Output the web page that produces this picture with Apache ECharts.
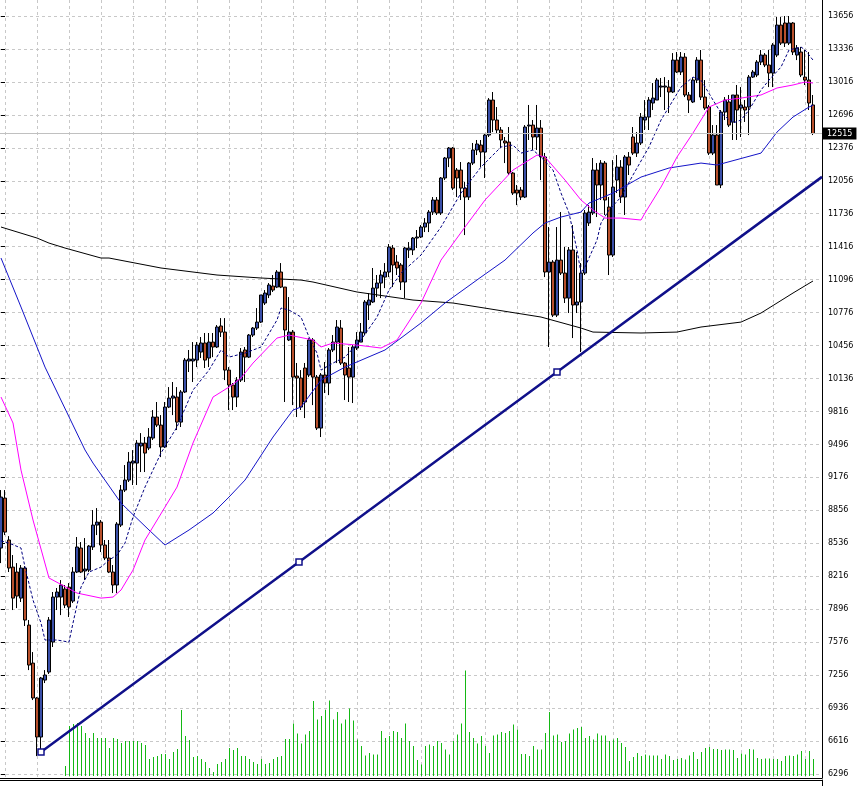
<!DOCTYPE html>
<html><head><meta charset="utf-8">
<script src="https://cdn.jsdelivr.net/npm/echarts/dist/echarts.min.js"></script>
<style>html,body{margin:0;padding:0;background:#fff;overflow:hidden}#c{width:861px;height:786px}</style>
</head><body><div id="c"></div>
<script>
// ---- price bars (bar index 0..203) ----
const open = [8490,8975,8568,8305,8257,8004,8296,7742,7373,7034,
6655,7208,7286,7577,8014,8014,8092,8111,7975,8257,
8490,8267,8276,8500,8713,8742,8519,8393,8257,8131,
8713,9053,9150,9315,9315,9481,9509,9461,9558,9762,
9684,9471,9859,9946,9956,9713,10005,10306,10306,10315,
10393,10481,10335,10490,10442,10646,10587,10218,10073,9956,
10121,10413,10344,10558,10626,10684,10869,10947,11034,11024,
11170,11024,10510,10587,10160,10141,10238,10170,10510,10150,
9655,10170,10092,10413,10490,10626,10286,10238,10150,10432,
10490,10578,10850,10879,11014,11063,11121,11170,11403,11267,
11238,11073,11384,11384,11500,11510,11607,11646,11752,11869,
11743,12083,12277,12374,12160,12160,11985,11898,12228,12355,
12403,12335,12500,12840,12646,12549,12442,12432,12131,11966,
11966,11898,12588,12597,12481,12568,12287,11170,11267,10752,
11286,11160,10917,11384,10850,10879,11160,11646,11743,12160,
12015,12228,11801,11335,12063,12189,11898,12287,12481,12325,
12423,12646,12675,12811,12840,12966,12966,12966,12918,13228,
13112,13257,12889,12821,13034,13228,12869,12772,12325,12500,
12015,12723,12821,12626,12889,12762,12772,12772,13063,13083,
13209,13277,13180,13102,13277,13568,13588,13393,13588,13277,
13306,13063,13034,12792];
const close = [8985,8645,8296,8004,8024,8296,7791,7354,7034,6655,
7228,7257,7791,8014,8063,8131,7936,7917,8257,8500,
8257,8286,8509,8713,8742,8519,8393,8257,8131,8723,
9053,9150,9325,9335,9509,9509,9412,9568,9762,9684,
9471,9859,9946,9966,9713,10005,10315,10325,10325,10461,
10481,10315,10490,10442,10636,10587,10218,10073,9956,10121,
10393,10344,10558,10626,10684,10947,10966,11044,10995,11170,
11024,10607,10587,10150,10141,9859,9908,10510,10150,9655,
10170,10092,10413,10490,10636,10286,10170,10150,10442,10510,
10587,10879,10898,11014,11063,11141,11170,11413,11238,11209,
11073,11403,11403,11500,11510,11607,11646,11752,11869,11743,
12083,12277,12374,11985,12083,11985,11898,12228,12355,12413,
12335,12500,12840,12646,12549,12452,12423,12131,11937,11937,
11898,12578,12597,12481,12568,12287,11170,11267,10752,11286,
11160,10917,11384,10850,10879,11160,11743,11752,12160,12015,
12228,11869,11335,11995,12189,11898,12287,12209,12325,12423,
12675,12675,12840,12859,13034,12976,12976,12918,13228,13112,
13257,12889,12840,13034,13228,12869,12762,12325,12500,12015,
12723,12840,12597,12889,12743,12792,12743,13063,13112,13209,
13277,13180,13102,13374,13568,13393,13393,13588,13306,13345,
13083,13034,12811,12515];
const low = [8344,8616,8257,7888,7907,7966,7733,7305,7014,6470,
6509,7179,7267,7529,7888,7839,7907,7820,7956,8247,
8247,8179,8257,8471,8616,8451,8373,8247,8053,8053,
8694,9034,9131,9102,9102,9228,9228,9441,9539,9665,
9373,9461,9849,9781,9636,9665,9995,10199,10102,10247,
10335,10238,10247,10344,10432,10539,10121,9830,9830,9859,
10102,10102,10335,10539,10607,10675,10850,10917,10976,11014,
11014,9908,10500,9878,9762,9830,9752,10150,9878,9636,
9568,9995,9975,10393,10286,10267,9927,9908,9898,10413,
10490,10558,10704,10869,10927,10917,11014,11121,11024,11141,
10995,10917,11306,11335,11403,11500,11558,11558,11724,11724,
11724,12063,12189,11966,11898,11869,11529,11869,12209,12306,
12189,12083,12481,12529,12520,12374,12228,12112,11918,11820,
11869,11888,12452,12355,12355,12063,11121,10442,10733,10733,
11141,10869,10772,10529,10772,10393,11141,11617,11724,11704,
11869,11724,11141,11316,11937,11840,11724,12112,12306,12287,
12403,12549,12549,12743,12840,12869,12743,12714,12908,13102,
13083,12869,12714,12811,13005,12840,12743,12306,12306,12015,
11985,12646,12578,12452,12452,12481,12627,12500,13054,13063,
13180,13160,12966,12966,13257,13374,13355,13374,13277,13228,
13063,12986,12743,12500];
const high = [9053,9053,8606,8422,8344,8325,8315,7791,7480,7043,
7238,7305,7820,8063,8102,8179,8131,8150,8305,8597,
8548,8587,8519,8859,8878,8762,8568,8568,8325,8742,
9102,9296,9422,9441,9538,9606,9568,9655,9830,9908,
9781,9908,10053,10102,10053,10024,10335,10413,10490,10490,
10539,10578,10578,10578,10655,10723,10723,10247,10092,10150,
10432,10442,10568,10636,10820,10947,10995,11063,11141,11189,
11257,11024,10927,10607,10287,10218,10287,10529,10529,10170,
10189,10296,10432,10558,10704,10704,10296,10442,10461,10587,
10675,10898,10966,11209,11141,11189,11257,11442,11432,11335,
11257,11413,11461,11510,11578,11626,11694,11772,11898,11898,
12092,12287,12384,12384,12180,12238,12044,12238,12423,12452,
12452,12519,12859,12918,12772,12578,12481,12578,12141,12015,
11995,12597,12792,12646,12792,12646,12326,11607,11286,11607,
11753,11413,11413,11626,11364,11257,11772,11820,12277,12228,
12257,12248,11898,12257,12306,12257,12306,12335,12578,12529,
12714,12840,12869,13005,13054,13054,13063,13034,13296,13306,
13306,13296,12918,13054,13257,13326,13034,12792,12597,12597,
12743,12869,12889,12889,12986,12966,12840,13083,13131,13228,
13326,13296,13326,13393,13646,13646,13656,13656,13597,13374,
13355,13326,13306,12889];

// ---- volume, from bar 16 onward ----
const volumeFirstBar = 16;
const volume = [100,500,520,530,500,430,380,430,380,380,380,280,380,370,330,350,350,350,350,330,
310,170,190,200,220,220,170,240,270,660,400,360,190,200,170,140,80,40,120,140,
170,280,260,280,200,200,170,140,120,170,120,130,170,190,200,370,370,525,425,325,
415,450,750,565,600,660,755,565,640,525,565,675,555,365,300,205,230,215,215,450,
380,400,450,440,380,525,350,300,160,115,300,315,300,350,330,265,215,350,415,525,
1055,440,380,325,400,300,230,405,415,440,430,450,515,465,220,220,200,300,265,265,
430,640,405,415,340,350,425,465,480,490,380,400,365,425,405,405,350,365,380,330,
290,150,190,230,200,215,205,205,205,170,215,200,160,170,180,165,205,240,170,240,
280,290,270,270,260,265,265,260,180,225,215,270,265,180,170,175,175,170,170,150,
200,205,200,215,250,170,250,170];

// ---- moving averages: [bar, value] ----
const maFast = [[0,8560],[2,8538],[5,8490],[6,8305],[8,7985],[10,7762],[11,7597],[14,7597],[17,7577],[18,7762],[20,8111],[22,8257],[25,8305],[27,8373],[29,8422],[31,8538],[33,8791],[36,9082],[40,9413],[44,9665],[48,10024],[52,10218],[55,10413],[57,10344],[61,10383],[65,10442],[69,10704],[70,10820],[72,10801],[75,10733],[77,10539],[79,10383],[80,10218],[83,10286],[86,10344],[90,10510],[94,10733],[97,10995],[100,11160],[105,11335],[110,11607],[115,11937],[120,12189],[125,12384],[128,12403],[130,12325],[133,12355],[135,12287],[138,12160],[140,11937],[142,11743],[144,11384],[145,11160],[146,11218],[149,11481],[150,11646],[152,11772],[155,11898],[158,12112],[162,12384],[165,12646],[167,12772],[170,12966],[173,13063],[175,13034],[178,12840],[180,12714],[183,12617],[185,12646],[187,12743],[190,12937],[192,13034],[195,13160],[197,13326],[200,13355],[201,13326],[203,13228]];
const maMid = [[0,9956],[3,9704],[5,9247],[8,8762],[12,8199],[19,8053],[25,8004],[28,8014],[30,8082],[33,8276],[36,8568],[41,8888],[44,9082],[48,9510],[53,9956],[57,10053],[60,10141],[63,10286],[69,10529],[72,10558],[78,10510],[80,10442],[83,10481],[89,10461],[95,10432],[99,10510],[105,10869],[110,11286],[116,11607],[121,11869],[128,12160],[134,12306],[136,12287],[141,12063],[145,11869],[148,11772],[151,11694],[155,11694],[160,11675],[161,11743],[165,11995],[169,12287],[173,12520],[177,12772],[181,12840],[185,12859],[190,12889],[194,12957],[198,12986],[201,13015],[203,13005]];
const maSlow = [[0,11306],[5,10830],[11,10247],[21,9442],[23,9315],[30,8927],[37,8665],[41,8519],[47,8665],[53,8830],[57,8985],[61,9150],[68,9568],[73,9830],[75,9859],[80,10121],[86,10247],[96,10413],[105,10675],[111,10869],[120,11121],[126,11286],[133,11549],[136,11646],[140,11704],[145,11752],[147,11840],[153,11937],[160,12092],[167,12180],[175,12228],[179,12209],[190,12325],[194,12529],[198,12675],[202,12772],[203,12790]];
const maLong = [[0,11607],[9,11500],[12,11451],[16,11403],[25,11306],[27,11306],[40,11209],[54,11141],[65,11112],[75,11092],[78,11073],[89,10976],[103,10898],[113,10869],[124,10801],[135,10733],[145,10626],[148,10587],[160,10578],[169,10587],[175,10636],[185,10684],[190,10772],[198,10966],[203,11083]];

// ---- trend line anchors ----
const trendBars = [10, 74.5, 139, 205.25];
const trendValues = [6510, 8355, 10199, 12094];
const lastPrice = 12515;

// ---- price axis ticks ----
const priceMin = 6296, priceMax = 13656, priceStep = 320;

const candleData = open.map((o, i) => [i, o, close[i], low[i], high[i]]);
const volData = volume.map((v, i) => [volumeFirstBar + i, v]);
const trendData = trendBars.map((b, i) => ({
  value: [b, trendValues[i]],
  symbol: i < 3 ? 'rect' : 'none'
}));

const xMin = -0.25, xMax = 205.25;
const gridDash = [3, 3];
const chart = echarts.init(document.getElementById('c'), null, {renderer: 'canvas'});
const hiddenX = (gi, min, max) => ({type: 'value', gridIndex: gi, min, max, show: false, splitLine: {show: false}});
chart.setOption({
  animation: false,
  backgroundColor: '#ffffff',
  grid: [
    {left: 0, top: 16, width: 822, height: 758},   // 0 price
    {left: 5, top: 0, width: 817, height: 778},    // 1 vertical grid
    {left: 0, top: 0, width: 822, height: 778},    // 2 frame
    {left: 0, top: 16, width: 822, height: 760},   // 3 volume
    {left: 0, top: 780, width: 822, height: 30}    // 4 sub window
  ],
  xAxis: [
    hiddenX(0, xMin, xMax),
    {type: 'value', gridIndex: 1, min: 1, max: xMax, interval: 8,
     axisLine: {show: false}, axisTick: {show: false}, axisLabel: {show: false},
     splitLine: {show: true, lineStyle: {color: '#c8c8c8', type: gridDash, width: 1}}},
    {type: 'value', gridIndex: 2, min: 0, max: 1, position: 'bottom',
     axisLine: {show: true, onZero: false, lineStyle: {color: '#000', width: 1}},
     axisTick: {show: false}, axisLabel: {show: false}, splitLine: {show: false}},
    // volume scale shifted by half a pixel so each 1px stick lands on a whole pixel
    hiddenX(3, xMin - 0.125, xMax - 0.125),
    {type: 'value', gridIndex: 4, min: 0, max: 1, position: 'top',
     axisLine: {show: true, onZero: false, lineStyle: {color: '#000', width: 1}},
     axisTick: {show: false}, axisLabel: {show: false}, splitLine: {show: false}}
  ],
  yAxis: [
    {type: 'value', gridIndex: 0, position: 'right', min: priceMin, max: priceMax, interval: priceStep,
     axisLine: {show: false},
     axisTick: {show: true, length: 4, lineStyle: {color: '#000'}},
     axisLabel: {show: true, margin: 6, color: '#000', fontFamily: 'DejaVu Sans', fontSize: 8,
                 formatter: v => String(Math.round(v))},
     splitLine: {show: true, lineStyle: {color: '#c8c8c8', type: gridDash, width: 1}}},
    {type: 'value', gridIndex: 1, show: false, splitLine: {show: false}},
    {type: 'value', gridIndex: 2, position: 'right', min: 0, max: 1,
     axisLine: {show: true, onZero: false, lineStyle: {color: '#000', width: 1}},
     axisTick: {show: false}, axisLabel: {show: false}, splitLine: {show: false}},
    {type: 'value', gridIndex: 3, min: 0, max: 7600, show: false, splitLine: {show: false}},
    {type: 'value', gridIndex: 4, position: 'right', min: 0, max: 1,
     axisLine: {show: true, onZero: false, lineStyle: {color: '#000', width: 1}},
     axisTick: {show: false}, axisLabel: {show: false}, splitLine: {show: false}},
    // last-price tag on the price scale
    {type: 'value', gridIndex: 0, position: 'right', min: priceMin, max: priceMax,
     axisLine: {show: false}, axisTick: {show: false}, splitLine: {show: false},
     axisLabel: {show: true, customValues: [lastPrice], margin: 1, color: '#fff', backgroundColor: '#000',
                 padding: [2, 4, 2, 4], fontFamily: 'DejaVu Sans', fontSize: 8,
                 formatter: v => String(Math.round(v))}}
  ],
  series: [
    {type: 'custom', name: 'Volume', xAxisIndex: 3, yAxisIndex: 3, data: volData, silent: true, z: 1,
     encode: {x: 0, y: 1},
     renderItem: (params, api) => {
       const base = api.coord([api.value(0), 0]);
       const top = api.coord([api.value(0), api.value(1)]);
       return {type: 'line', shape: {x1: base[0], y1: base[1], x2: top[0], y2: top[1]},
               style: {stroke: '#14b814', lineWidth: 1}};
     }},
    {type: 'candlestick', name: 'Price', xAxisIndex: 0, yAxisIndex: 0, data: candleData,
     barWidth: 3, clip: false,
     itemStyle: {color: '#3a4fa8', color0: '#b8502c', borderColor: '#000', borderColor0: '#000', borderWidth: 1},
     markLine: {silent: true, symbol: ['none', 'none'], animation: false,
       data: [{yAxis: lastPrice}],
       lineStyle: {color: '#c0c0c0', type: 'solid', width: 1},
       label: {show: false}}},
    {type: 'line', name: 'MA long', xAxisIndex: 0, yAxisIndex: 0, data: maLong, symbol: 'none',
     lineStyle: {color: '#000', width: 1}, z: 3},
    {type: 'line', name: 'MA slow', xAxisIndex: 0, yAxisIndex: 0, data: maSlow, symbol: 'none',
     lineStyle: {color: '#1414c8', width: 1}, z: 3},
    {type: 'line', name: 'MA mid', xAxisIndex: 0, yAxisIndex: 0, data: maMid, symbol: 'none',
     lineStyle: {color: '#ff00ff', width: 1}, z: 3},
    {type: 'line', name: 'MA fast', xAxisIndex: 0, yAxisIndex: 0, data: maFast, symbol: 'none',
     lineStyle: {color: '#000080', width: 1, type: [3, 2]}, z: 3},
    {type: 'line', name: 'Trend', xAxisIndex: 0, yAxisIndex: 0, data: trendData,
     symbolSize: 6, showAllSymbol: true,
     lineStyle: {color: '#10108a', width: 2.5},
     itemStyle: {color: '#ffffff', borderColor: '#10108a', borderWidth: 1.5}, z: 4}
  ]
});
</script>
</body></html>
